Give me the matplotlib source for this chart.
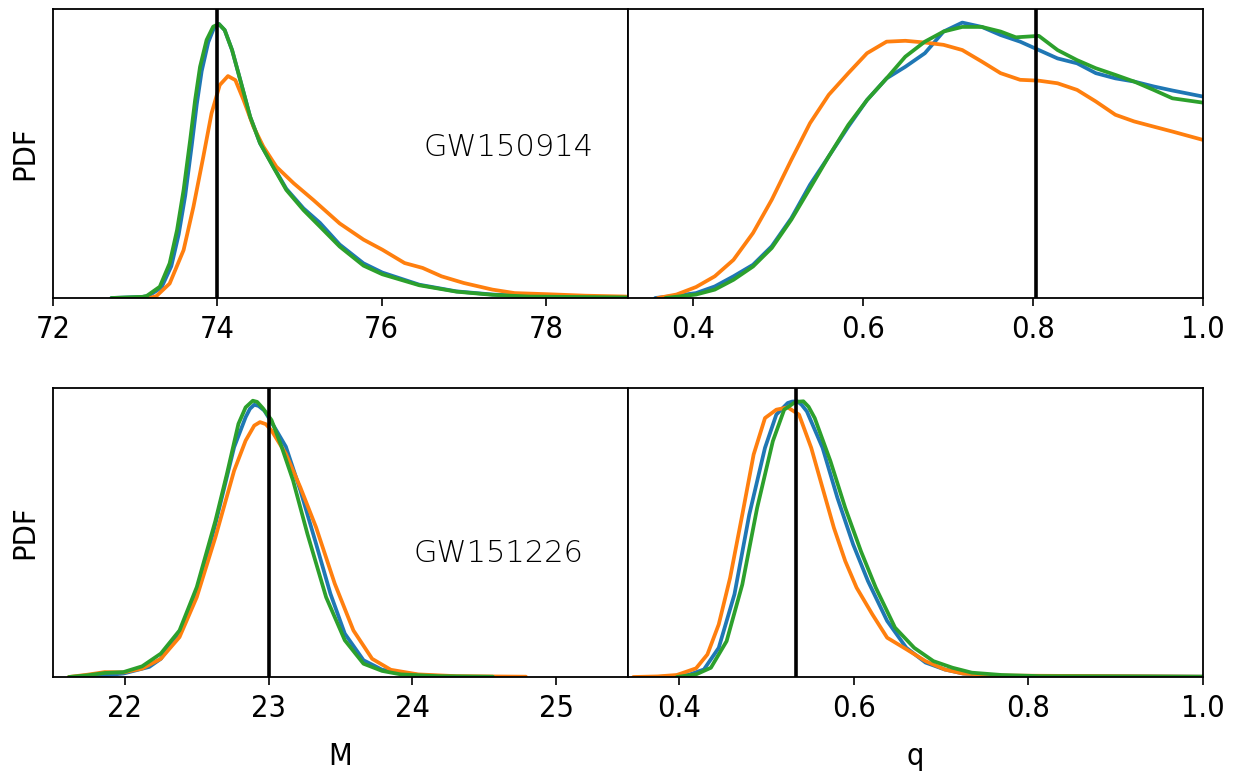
import matplotlib
matplotlib.use("Agg")
import matplotlib.pyplot as plt

plt.rcParams['font.family'] = ['DejaVu Sans']
plt.rcParams['font.stretch'] = 'condensed'

# ---------------- GW150914, chirp mass M ----------------
m1_blue_x = [72.71, 73.09, 73.16, 73.32, 73.44, 73.53, 73.61, 73.69, 73.75, 73.81, 73.89, 73.96, 74.02,
             74.09, 74.18, 74.28, 74.40, 74.52, 74.68, 74.84, 75.05, 75.25, 75.49, 75.78, 76.01, 76.46,
             76.91, 77.35, 77.80, 78.98]
m1_blue_y = [0.0, 0.004, 0.007, 0.036, 0.11, 0.22, 0.355, 0.53, 0.67, 0.785, 0.885, 0.935, 0.948,
             0.927, 0.858, 0.754, 0.627, 0.536, 0.456, 0.378, 0.31, 0.26, 0.185, 0.12, 0.088, 0.046,
             0.023, 0.012, 0.006, 0.002]
m1_green_x = [72.71, 73.09, 73.14, 73.30, 73.42, 73.51, 73.59, 73.67, 73.73, 73.79, 73.87, 73.95, 74.02,
              74.09, 74.18, 74.28, 74.40, 74.52, 74.68, 74.84, 75.05, 75.25, 75.49, 75.78, 76.01, 76.46,
              76.91, 77.35, 77.80, 78.98]
m1_green_y = [0.0, 0.004, 0.007, 0.039, 0.12, 0.235, 0.374, 0.547, 0.685, 0.80, 0.893, 0.939, 0.948,
              0.927, 0.858, 0.754, 0.627, 0.536, 0.454, 0.374, 0.304, 0.247, 0.178, 0.112, 0.082, 0.044,
              0.022, 0.011, 0.005, 0.002]
m1_orange_x = [73.18, 73.26, 73.42, 73.59, 73.71, 73.83, 73.93, 74.03, 74.13, 74.22, 74.32, 74.44, 74.56,
               74.72, 74.93, 75.17, 75.49, 75.78, 76.01, 76.28, 76.50, 76.73, 77.00, 77.35, 77.62, 78.03,
               78.48, 78.98]
m1_orange_y = [0.0, 0.007, 0.05, 0.166, 0.316, 0.489, 0.639, 0.737, 0.768, 0.754, 0.685, 0.593, 0.524,
               0.454, 0.397, 0.339, 0.258, 0.202, 0.167, 0.121, 0.104, 0.075, 0.052, 0.029, 0.017, 0.013,
               0.008, 0.005]

# ---------------- GW150914, mass ratio q ----------------
q1_blue_x = [0.356, 0.381, 0.404, 0.426, 0.448, 0.471, 0.493, 0.516, 0.538, 0.560, 0.583, 0.605, 0.628,
             0.650, 0.673, 0.695, 0.717, 0.740, 0.762, 0.785, 0.807, 0.829, 0.852, 0.874, 0.897, 0.919,
             0.942, 0.964, 1.0]
q1_blue_y = [0.0, 0.008, 0.017, 0.04, 0.075, 0.115, 0.179, 0.276, 0.392, 0.49, 0.593, 0.685, 0.76,
             0.80, 0.847, 0.922, 0.953, 0.938, 0.91, 0.887, 0.858, 0.829, 0.812, 0.778, 0.76, 0.749,
             0.732, 0.718, 0.697]
q1_green_x = [0.368, 0.404, 0.426, 0.448, 0.471, 0.493, 0.516, 0.538, 0.560, 0.583, 0.605, 0.628, 0.650,
              0.673, 0.695, 0.717, 0.740, 0.762, 0.780, 0.807, 0.829, 0.852, 0.874, 0.897, 0.919, 0.942,
              0.964, 1.0]
q1_green_y = [0.0, 0.012, 0.029, 0.063, 0.109, 0.173, 0.271, 0.38, 0.49, 0.599, 0.685, 0.76, 0.835,
              0.887, 0.922, 0.938, 0.938, 0.922, 0.902, 0.907, 0.858, 0.823, 0.795, 0.772, 0.749, 0.72,
              0.691, 0.676]
q1_orange_x = [0.359, 0.381, 0.404, 0.426, 0.448, 0.471, 0.493, 0.516, 0.538, 0.560, 0.583, 0.605, 0.628,
               0.650, 0.673, 0.695, 0.717, 0.740, 0.762, 0.785, 0.807, 0.829, 0.852, 0.874, 0.897, 0.919,
               0.942, 0.964, 1.0]
q1_orange_y = [0.0, 0.012, 0.038, 0.075, 0.132, 0.225, 0.34, 0.478, 0.605, 0.703, 0.778, 0.847, 0.887,
               0.89, 0.884, 0.876, 0.858, 0.818, 0.778, 0.755, 0.752, 0.743, 0.72, 0.68, 0.634, 0.611,
               0.593, 0.576, 0.547]

# ---------------- GW151226, chirp mass M ----------------
m2_blue_x = [21.74, 21.99, 22.17, 22.25, 22.38, 22.50, 22.63, 22.76, 22.84, 22.87, 22.90, 22.93, 22.97,
             23.04, 23.12, 23.22, 23.33, 23.43, 23.53, 23.66, 23.79, 24.04, 24.30]
m2_blue_y = [0.0, 0.012, 0.035, 0.063, 0.15, 0.288, 0.53, 0.795, 0.899, 0.928, 0.942, 0.938, 0.922,
             0.865, 0.797, 0.647, 0.461, 0.288, 0.15, 0.058, 0.025, 0.007, 0.001]
m2_green_x = [21.61, 21.74, 21.86, 21.99, 22.12, 22.25, 22.38, 22.50, 22.63, 22.71, 22.79, 22.84, 22.89,
              22.92, 22.96, 23.02, 23.09, 23.17, 23.27, 23.40, 23.53, 23.66, 23.79, 23.92, 24.18, 24.56]
m2_green_y = [0.0, 0.006, 0.014, 0.017, 0.037, 0.081, 0.161, 0.311, 0.541, 0.703, 0.876, 0.933, 0.956,
              0.952, 0.93, 0.889, 0.797, 0.68, 0.495, 0.276, 0.127, 0.046, 0.021, 0.009, 0.003, 0.001]
m2_orange_x = [21.61, 21.74, 21.86, 21.99, 22.12, 22.25, 22.38, 22.50, 22.63, 22.76, 22.84, 22.90, 22.94,
               22.98, 23.02, 23.12, 23.22, 23.33, 23.46, 23.59, 23.72, 23.85, 24.04, 24.30, 24.79]
m2_orange_y = [0.0, 0.008, 0.017, 0.016, 0.029, 0.063, 0.138, 0.276, 0.484, 0.714, 0.818, 0.87, 0.882,
               0.875, 0.853, 0.772, 0.657, 0.518, 0.323, 0.161, 0.063, 0.025, 0.009, 0.003, 0.001]

# ---------------- GW151226, mass ratio q ----------------
q2_blue_x = [0.375, 0.410, 0.428, 0.445, 0.463, 0.480, 0.498, 0.511, 0.524, 0.529, 0.535, 0.540, 0.546,
             0.564, 0.581, 0.599, 0.616, 0.638, 0.660, 0.682, 0.704, 0.725, 0.769, 1.0]
q2_blue_y = [0.0, 0.007, 0.026, 0.101, 0.286, 0.562, 0.793, 0.908, 0.948, 0.953, 0.954, 0.942, 0.919,
             0.793, 0.62, 0.459, 0.332, 0.194, 0.101, 0.05, 0.026, 0.012, 0.004, 0.001]
q2_green_x = [0.397, 0.419, 0.436, 0.454, 0.472, 0.489, 0.507, 0.520, 0.533, 0.542, 0.548, 0.555, 0.573,
              0.590, 0.608, 0.625, 0.647, 0.669, 0.691, 0.713, 0.735, 0.769, 0.813, 1.0]
q2_green_y = [0.0, 0.009, 0.032, 0.124, 0.32, 0.585, 0.816, 0.925, 0.952, 0.954, 0.935, 0.896, 0.747,
              0.585, 0.435, 0.309, 0.171, 0.101, 0.055, 0.032, 0.015, 0.007, 0.003, 0.001]
q2_orange_x = [0.347, 0.375, 0.397, 0.419, 0.432, 0.445, 0.458, 0.472, 0.485, 0.498, 0.511, 0.524, 0.537,
               0.551, 0.564, 0.577, 0.590, 0.603, 0.621, 0.638, 0.660, 0.682, 0.704, 0.725, 0.769, 1.0]
q2_orange_y = [0.0, 0.002, 0.007, 0.03, 0.078, 0.182, 0.343, 0.562, 0.77, 0.896, 0.925, 0.933, 0.908,
               0.793, 0.654, 0.516, 0.401, 0.309, 0.217, 0.136, 0.096, 0.055, 0.026, 0.012, 0.005, 0.001]

true_values = [74.0, 0.804, 23.0, 0.533]
event_names = ["GW150914", "GW151226"]
x_labels = ["M", "q"]
xlims = [(72.0, 79.0), (0.324, 1.0), (21.5, 25.5), (0.341, 1.0)]
xticks = [[72, 74, 76, 78], [0.4, 0.6, 0.8, 1.0], [22, 23, 24, 25], [0.4, 0.6, 0.8, 1.0]]

panels = [
    (m1_blue_x, m1_blue_y, m1_orange_x, m1_orange_y, m1_green_x, m1_green_y),
    (q1_blue_x, q1_blue_y, q1_orange_x, q1_orange_y, q1_green_x, q1_green_y),
    (m2_blue_x, m2_blue_y, m2_orange_x, m2_orange_y, m2_green_x, m2_green_y),
    (q2_blue_x, q2_blue_y, q2_orange_x, q2_orange_y, q2_green_x, q2_green_y),
]

fig = plt.figure(figsize=(12.4, 7.79), dpi=100)
W, H = 1240.0, 779.0
ax_left = [53, 628]
ax_w = 575
row_top = [9, 388]
ax_h = 289

colors = ["#1f77b4", "#ff7f0e", "#2ca02c"]
for i, data in enumerate(panels):
    r, c = divmod(i, 2)
    ax = fig.add_axes([ax_left[c] / W, 1 - (row_top[r] + ax_h) / H, ax_w / W, ax_h / H])
    bx, by, ox, oy, gx, gy = data
    kw = dict(lw=2.7, solid_joinstyle="round", solid_capstyle="round")
    ax.plot(bx, by, color=colors[0], **kw)
    ax.plot(ox, oy, color=colors[1], **kw)
    ax.plot(gx, gy, color=colors[2], **kw)
    ax.axvline(true_values[i], color="black", lw=2.6)
    ax.set_xlim(*xlims[i])
    ax.set_ylim(0, 1.0)
    ax.set_yticks([])
    ax.set_xticks(xticks[i])
    ax.set_xticklabels([f"{t:g}" if c == 0 else f"{t:.1f}" for t in xticks[i]])
    ax.tick_params(axis="x", labelsize=22, length=6, width=1.2, pad=6)
    for s in ax.spines.values():
        s.set_linewidth(1.3)
    if c == 0:
        ax.set_ylabel("PDF", fontsize=22, labelpad=10)
        pos = (0.793, 0.522) if r == 0 else (0.774, 0.426)
        ax.text(pos[0], pos[1], event_names[r], transform=ax.transAxes, fontsize=22,
                fontweight=200, fontstretch="normal", ha="center", va="center")
    if r == 1:
        ax.set_xlabel(x_labels[c], fontsize=22, labelpad=14)

fig.savefig("out.png", dpi=100)
